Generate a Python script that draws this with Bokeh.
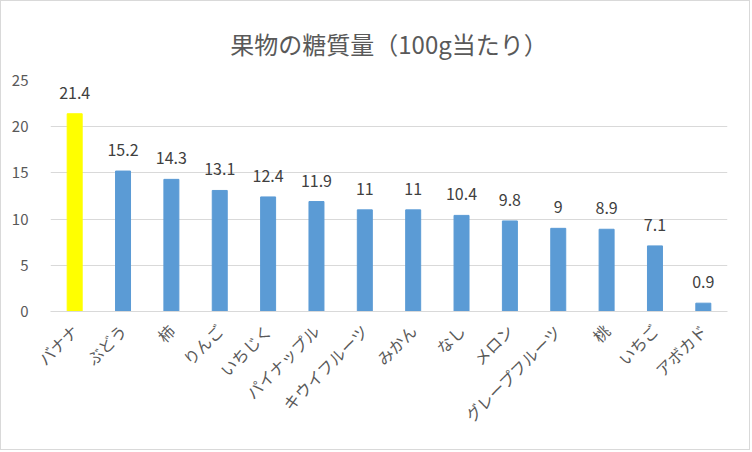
import math
from bokeh.plotting import figure
from bokeh.models import ColumnDataSource, LabelSet, FixedTicker, Title
from bokeh.core.properties import value
from bokeh.embed import file_html
from bokeh.resources import INLINE

fruits = ["バナナ", "ぶどう", "柿", "りんご", "いちじく", "パイナップル", "キウイフルーツ",
          "みかん", "なし", "メロン", "グレープフルーツ", "桃", "いちご", "アボカド"]
sugar = [21.4, 15.2, 14.3, 13.1, 12.4, 11.9, 11, 11, 10.4, 9.8, 9, 8.9, 7.1, 0.9]
labels = ["21.4", "15.2", "14.3", "13.1", "12.4", "11.9", "11", "11", "10.4", "9.8", "9", "8.9", "7.1", "0.9"]
y_ticks = [0, 5, 10, 15, 20, 25]
title_text = "果物の糖質量（100g当たり）"

colors = ["#FFFF00"] + ["#5B9BD5"] * (len(fruits) - 1)
src = ColumnDataSource(dict(x=fruits, top=sugar, lab=labels, color=colors))

FONT = "Noto Sans CJK JP"

p = figure(x_range=fruits, y_range=(0, 25), width=750, height=450,
           output_backend="svg", toolbar_location=None,
           min_border_left=49, min_border_right=24, min_border_top=79, min_border_bottom=140)
p.styles = {"border": "1px solid #d9d9d9"}

p.vbar(x="x", top="top", width=0.31, color="color", source=src)

p.add_layout(LabelSet(x="x", y="top", text="lab", source=src, text_align="center",
                      text_baseline="bottom", y_offset=15, text_font=value(FONT),
                      text_font_size=value("16px"), text_color=value("#404040")))

p.title = Title(text=title_text, align="center", text_font=FONT,
                text_font_size="24px", text_color="#595959", text_font_style="normal",
                standoff=40)

p.outline_line_color = None
p.xgrid.grid_line_color = None
p.ygrid.grid_line_color = "#d9d9d9"
p.yaxis.ticker = FixedTicker(ticks=y_ticks)
p.yaxis.axis_line_color = None
p.yaxis.major_tick_line_color = None
p.yaxis.minor_tick_line_color = None
p.yaxis.major_label_standoff = 16
p.yaxis.major_label_text_font = FONT
p.yaxis.major_label_text_font_size = "15px"
p.yaxis.major_label_text_color = "#595959"

p.xaxis.axis_line_color = "#d9d9d9"
p.xaxis.major_tick_line_color = None
p.xaxis.major_label_orientation = math.pi / 4
p.xaxis.major_label_standoff = 10
p.xaxis.major_label_text_font = FONT
p.xaxis.major_label_text_font_size = "16px"
p.xaxis.major_label_text_color = "#595959"
p.x_range.range_padding = 0

open("out.html", "w").write(file_html(p, INLINE))
